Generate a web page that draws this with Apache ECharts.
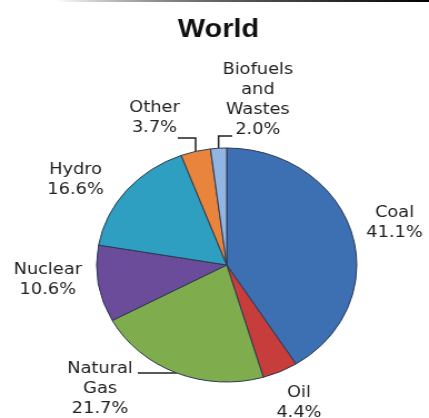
<!DOCTYPE html>
<html>
<head>
<meta charset="utf-8">
<script src="https://cdn.jsdelivr.net/npm/echarts@6/dist/echarts.min.js"></script>
<style>
  html, body { margin: 0; padding: 0; background: #fff; overflow: hidden; }
  #wrap { width: 429px; height: 418px; overflow: hidden; position: relative; }
  /* the chart is drawn narrow and stretched sideways, giving the oval pie */
  #chart { width: 386px; height: 418px; transform: scaleX(1.1114); transform-origin: 0 0; }
</style>
</head>
<body>
<div id="wrap"><div id="chart"></div></div>
<script>
// Share of world electricity generation by source (%)
const sources = ['Coal', 'Oil', 'Natural Gas', 'Nuclear', 'Hydro', 'Other', 'Biofuels and Wastes'];
const labelNames = ['Coal', 'Oil', 'Natural\nGas', 'Nuclear', 'Hydro', 'Other', 'Biofuels\nand\nWastes'];
const shares = [41.1, 4.4, 21.7, 10.6, 16.6, 3.7, 2.0];
const sliceColors = ['#3c70b3', '#c73d3b', '#7fac4c', '#6a4c9b', '#2f9fc1', '#e8843b', '#92b5e2'];
const withLine = [false, false, true, false, false, true, true];

// where each label block is centred (chart pixels)
const labelSpots = [[355, 223], [269, 403], [90, 389], [43, 280], [68, 180], [139, 118], [232, 100]];
// leader lines: go up to `rise` (y) then across to `toX`, or straight across for the gas label
const leader = {
  2: { toX: 124 },
  5: { rise: 138, toX: 160 },
  6: { rise: 136, toX: 209 }
};

const chart = echarts.init(document.getElementById('chart'), null, { renderer: 'canvas' });

const data = sources.map((s, i) => ({
  name: s,
  value: shares[i],
  itemStyle: { color: sliceColors[i] },
  label: { formatter: labelNames[i] + '\n' + shares[i].toFixed(1) + '%' },
  labelLine: { show: withLine[i] }
}));

chart.setOption({
  animation: false,
  title: {
    text: 'World',
    left: 155, top: 12,
    textStyle: { fontFamily: 'Liberation Sans', fontWeight: 'bold', fontSize: 26, color: '#111' }
  },
  graphic: [{
    type: 'rect', shape: { x: 50, y: 0, width: 340, height: 2 },
    style: { fill: new echarts.graphic.LinearGradient(0, 0, 1, 0, [
      { offset: 0, color: 'rgba(0,0,0,0)' }, { offset: 0.5, color: '#555' }, { offset: 1, color: '#000' }
    ]) }
  }],
  series: [{
    type: 'pie',
    center: [204, 265],
    radius: [0, 117],
    startAngle: 90,
    clockwise: true,
    data: data,
    itemStyle: { borderColor: '#2c3850', borderWidth: 1 },
    label: {
      position: 'outside',
      fontFamily: 'DejaVu Sans', fontSize: 16, color: '#222', lineHeight: 20,
      align: 'center', width: 120, overflow: 'none'
    },
    labelLine: { length: 10, length2: 15, lineStyle: { color: '#222', width: 1.5 } },
    labelLayout: function (p) {
      const i = p.dataIndex;
      const out = { x: labelSpots[i][0], y: labelSpots[i][1], align: 'center', verticalAlign: 'middle' };
      const l = leader[i];
      if (l && p.labelLinePoints) {
        const p0 = p.labelLinePoints[0];
        out.labelLinePoints = l.rise != null
          ? [p0, [p0[0], l.rise], [l.toX, l.rise]]
          : [p0, [l.toX, p0[1]], [l.toX, p0[1]]];
      }
      return out;
    }
  }]
});
</script>
</body>
</html>
